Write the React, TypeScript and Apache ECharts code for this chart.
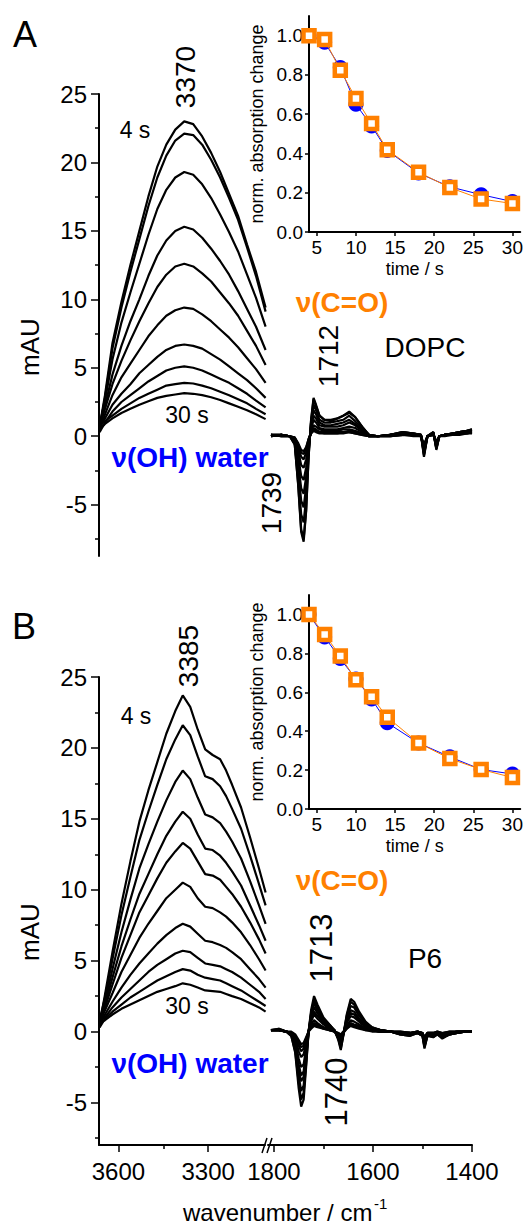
import React, { useEffect, useRef } from "react";
import * as echarts from "echarts";

// ---------- DATA ----------
const TIMES = [4, 6, 8, 10, 12, 14, 18, 22, 26, 30];

// Inset A (DOPC)
const OH_NORM_A = [1.0, 0.966, 0.838, 0.65, 0.54, 0.415, 0.3, 0.23, 0.19, 0.155];
const CO_NORM_A = [1.0, 0.98, 0.824, 0.68, 0.552, 0.419, 0.304, 0.226, 0.168, 0.145];
// Inset B (P6)
const OH_NORM_B = [1.0, 0.884, 0.773, 0.668, 0.566, 0.443, 0.339, 0.268, 0.203, 0.18];
const CO_NORM_B = [1.0, 0.897, 0.786, 0.664, 0.577, 0.472, 0.339, 0.259, 0.203, 0.162];

// nu(OH) region, panel A
const OH_W_A = [3663, 3645, 3620, 3590, 3560, 3530, 3500, 3470, 3440, 3410, 3380, 3350, 3320, 3290, 3260, 3230, 3200, 3170, 3140, 3108];
const OH_A_4s = [0.7, 3.0, 6.8, 9.8, 12.5, 15.0, 17.5, 19.7, 21.3, 22.4, 23.0, 22.8, 21.9, 20.7, 19.3, 17.7, 16.1, 14.0, 12.0, 9.4];
const OH_A_6s = [0.6, 2.8, 6.4, 9.4, 12.0, 14.4, 16.8, 18.9, 20.5, 21.6, 22.1, 22.0, 21.3, 20.2, 18.9, 17.4, 15.8, 13.8, 11.7, 9.1];
const OH_A_8s = [0.8, 2.6, 5.6, 8.3, 10.5, 12.6, 14.7, 16.6, 18.0, 18.9, 19.3, 19.1, 18.4, 17.4, 16.2, 14.9, 13.5, 11.8, 10.1, 8.0];
const OH_A_10s = [0.5, 2.2, 4.5, 6.6, 8.4, 10.0, 11.7, 13.2, 14.3, 15.0, 15.3, 15.1, 14.5, 13.7, 12.8, 11.8, 10.6, 9.3, 8.0, 6.3];
const OH_A_12s = [0.9, 2.0, 3.8, 5.5, 7.0, 8.4, 9.7, 10.9, 11.8, 12.4, 12.6, 12.4, 11.9, 11.3, 10.5, 9.7, 8.8, 7.7, 6.6, 5.2];
const OH_A_14s = [0.4, 1.6, 3.0, 4.3, 5.3, 6.3, 7.3, 8.1, 8.8, 9.2, 9.4, 9.3, 8.9, 8.4, 7.8, 7.2, 6.5, 5.7, 4.9, 3.9];
const OH_A_18s = [0.7, 1.3, 2.3, 3.1, 3.8, 4.6, 5.2, 5.8, 6.3, 6.6, 6.7, 6.6, 6.4, 6.0, 5.6, 5.1, 4.6, 4.1, 3.5, 2.8];
const OH_A_22s = [0.3, 1.0, 1.8, 2.5, 3.0, 3.5, 4.0, 4.4, 4.8, 5.0, 5.1, 5.0, 4.8, 4.5, 4.2, 3.9, 3.5, 3.1, 2.6, 2.1];
const OH_A_26s = [0.8, 1.1, 1.5, 2.0, 2.4, 2.8, 3.1, 3.4, 3.7, 3.8, 3.9, 3.85, 3.7, 3.5, 3.25, 3.0, 2.7, 2.4, 2.0, 1.6];
const OH_A_30s = [0.5, 0.9, 1.3, 1.7, 2.0, 2.3, 2.55, 2.8, 2.95, 3.05, 3.15, 3.1, 3.0, 2.85, 2.65, 2.4, 2.15, 1.9, 1.6, 1.25];
const OH_A = [OH_A_4s, OH_A_6s, OH_A_8s, OH_A_10s, OH_A_12s, OH_A_14s, OH_A_18s, OH_A_22s, OH_A_26s, OH_A_30s];

// nu(C=O) region, panel A
const CO_W_A = [1806, 1785, 1768, 1758, 1751, 1745, 1740, 1735, 1730, 1725, 1720, 1715, 1708, 1698, 1685, 1672, 1660, 1648, 1636, 1622, 1608, 1590, 1565, 1540, 1518, 1503, 1497, 1490, 1478, 1472, 1466, 1455, 1440, 1425, 1410, 1400];
const CO_A_4s = [0.1, 0.1, 0.0, -0.6, -3.6, -7.0, -7.7, -5.5, -1.5, 1.2, 2.8, 2.3, 1.5, 1.2, 1.2, 1.3, 1.5, 1.8, 1.4, 0.7, 0.1, 0.0, 0.1, 0.3, 0.2, 0.1, -1.5, 0.0, 0.3, -1.0, 0.0, 0.1, 0.2, 0.3, 0.4, 0.5];
const CO_A_6s = [0.1, 0.1, 0.0, -0.6, -3.5, -6.8, -7.5, -5.4, -1.5, 1.1, 2.7, 2.2, 1.5, 1.2, 1.1, 1.3, 1.5, 1.7, 1.4, 0.7, 0.1, 0.0, 0.1, 0.3, 0.2, 0.1, -1.4, 0.0, 0.3, -0.9, 0.0, 0.1, 0.2, 0.3, 0.4, 0.5];
const CO_A_8s = [0.1, 0.1, 0.0, -0.5, -3.0, -5.7, -6.3, -4.5, -1.2, 1.0, 2.3, 1.9, 1.2, 1.0, 1.0, 1.1, 1.2, 1.5, 1.1, 0.6, 0.1, 0.0, 0.1, 0.3, 0.2, 0.1, -1.3, 0.0, 0.3, -0.9, 0.0, 0.1, 0.2, 0.3, 0.4, 0.4];
const CO_A_10s = [0.0, 0.1, 0.0, -0.4, -2.4, -4.7, -5.2, -3.7, -1.0, 0.8, 1.9, 1.6, 1.0, 0.8, 0.8, 0.9, 1.0, 1.2, 0.9, 0.5, 0.1, 0.0, 0.1, 0.2, 0.2, 0.1, -1.2, 0.0, 0.2, -0.8, 0.0, 0.1, 0.2, 0.3, 0.4, 0.4];
const CO_A_12s = [0.1, 0.0, 0.0, -0.3, -2.0, -3.8, -4.2, -3.0, -0.8, 0.7, 1.5, 1.3, 0.8, 0.7, 0.7, 0.7, 0.8, 1.0, 0.8, 0.4, 0.0, 0.0, 0.1, 0.2, 0.1, 0.1, -1.1, 0.0, 0.2, -0.7, 0.0, 0.1, 0.2, 0.2, 0.3, 0.4];
const CO_A_14s = [0.0, 0.1, 0.0, -0.3, -1.5, -2.9, -3.2, -2.3, -0.6, 0.5, 1.2, 1.0, 0.6, 0.5, 0.5, 0.5, 0.6, 0.7, 0.6, 0.3, 0.0, 0.0, 0.1, 0.2, 0.1, 0.0, -1.0, 0.0, 0.2, -0.6, 0.0, 0.1, 0.1, 0.2, 0.3, 0.3];
const CO_A_18s = [0.1, 0.0, 0.0, -0.2, -1.1, -2.1, -2.3, -1.7, -0.5, 0.4, 0.8, 0.7, 0.5, 0.4, 0.4, 0.4, 0.5, 0.5, 0.4, 0.2, 0.0, 0.0, 0.1, 0.1, 0.1, 0.0, -0.9, 0.0, 0.2, -0.5, 0.0, 0.1, 0.1, 0.2, 0.3, 0.3];
const CO_A_22s = [0.0, 0.1, 0.0, -0.1, -0.8, -1.5, -1.7, -1.2, -0.3, 0.3, 0.6, 0.5, 0.3, 0.3, 0.3, 0.3, 0.3, 0.4, 0.3, 0.2, 0.0, 0.0, 0.0, 0.1, 0.1, 0.0, -0.8, 0.0, 0.1, -0.5, 0.0, 0.1, 0.1, 0.2, 0.2, 0.3];
const CO_A_26s = [0.1, 0.0, 0.0, -0.1, -0.6, -1.2, -1.3, -0.9, -0.2, 0.2, 0.5, 0.4, 0.3, 0.2, 0.2, 0.2, 0.3, 0.3, 0.2, 0.1, 0.0, 0.0, 0.0, 0.1, 0.1, 0.0, -0.7, 0.0, 0.1, -0.4, 0.0, 0.1, 0.1, 0.2, 0.2, 0.3];
const CO_A_30s = [0.0, 0.1, 0.0, -0.1, -0.5, -1.0, -1.1, -0.8, -0.2, 0.2, 0.4, 0.3, 0.2, 0.2, 0.2, 0.2, 0.2, 0.3, 0.2, 0.1, 0.0, 0.0, 0.0, 0.1, 0.0, 0.0, -0.6, 0.0, 0.1, -0.4, 0.0, 0.0, 0.1, 0.1, 0.2, 0.2];
const CO_A = [CO_A_4s, CO_A_6s, CO_A_8s, CO_A_10s, CO_A_12s, CO_A_14s, CO_A_18s, CO_A_22s, CO_A_26s, CO_A_30s];

// nu(OH) region, panel B
const OH_W_B = [3663, 3645, 3620, 3590, 3560, 3530, 3500, 3470, 3440, 3410, 3385, 3360, 3335, 3310, 3285, 3260, 3240, 3220, 3190, 3160, 3130, 3108];
const OH_B_4s = [0.5, 2.6, 5.6, 9.0, 12.0, 14.8, 17.0, 19.0, 21.0, 22.6, 23.7, 22.9, 21.3, 19.9, 19.5, 19.2, 18.4, 17.4, 15.8, 13.7, 11.5, 9.8];
const OH_B_6s = [0.8, 2.4, 5.1, 8.2, 10.9, 13.5, 15.5, 17.4, 19.2, 20.6, 21.6, 20.9, 19.4, 18.0, 17.8, 17.3, 16.6, 15.7, 14.3, 12.4, 10.4, 8.9];
const OH_B_8s = [0.4, 2.1, 4.4, 7.0, 9.3, 11.5, 13.2, 14.8, 16.3, 17.6, 18.4, 17.8, 16.5, 15.3, 15.1, 14.7, 14.1, 13.4, 12.2, 10.6, 8.9, 7.6];
const OH_B_10s = [0.9, 1.9, 3.8, 6.0, 7.9, 9.7, 11.1, 12.5, 13.8, 14.8, 15.5, 15.0, 13.9, 12.9, 12.8, 12.4, 11.9, 11.3, 10.3, 8.9, 7.5, 6.4];
const OH_B_12s = [0.3, 1.7, 3.3, 5.2, 6.8, 8.4, 9.6, 10.8, 11.9, 12.7, 13.3, 12.9, 12.0, 11.1, 11.0, 10.7, 10.2, 9.7, 8.8, 7.7, 6.5, 5.5];
const OH_B_14s = [0.7, 1.5, 2.7, 4.2, 5.4, 6.6, 7.6, 8.5, 9.4, 10.0, 10.5, 10.2, 9.4, 8.8, 8.7, 8.4, 8.1, 7.7, 7.0, 6.1, 5.1, 4.3];
const OH_B_18s = [0.4, 1.2, 2.1, 3.1, 4.0, 4.8, 5.5, 6.2, 6.8, 7.3, 7.6, 7.4, 6.9, 6.4, 6.3, 6.1, 5.9, 5.6, 5.1, 4.4, 3.7, 3.1];
const OH_B_22s = [0.8, 1.0, 1.7, 2.4, 3.0, 3.6, 4.2, 4.7, 5.1, 5.5, 5.7, 5.6, 5.2, 4.8, 4.7, 4.6, 4.4, 4.2, 3.8, 3.3, 2.8, 2.3];
const OH_B_26s = [0.3, 0.9, 1.4, 1.9, 2.4, 2.8, 3.2, 3.6, 3.9, 4.2, 4.4, 4.3, 4.0, 3.8, 3.7, 3.6, 3.4, 3.2, 2.9, 2.5, 2.1, 1.8];
const OH_B_30s = [0.6, 0.8, 1.2, 1.6, 1.9, 2.2, 2.5, 2.8, 3.0, 3.2, 3.4, 3.3, 3.1, 2.9, 2.85, 2.8, 2.65, 2.5, 2.3, 2.0, 1.7, 1.4];
const OH_B = [OH_B_4s, OH_B_6s, OH_B_8s, OH_B_10s, OH_B_12s, OH_B_14s, OH_B_18s, OH_B_22s, OH_B_26s, OH_B_30s];

// nu(C=O) region, panel B
const CO_W_B = [1806, 1790, 1775, 1765, 1757, 1750, 1745, 1740, 1735, 1730, 1725, 1719, 1712, 1700, 1688, 1678, 1670, 1665, 1660, 1653, 1645, 1638, 1628, 1615, 1602, 1585, 1565, 1545, 1525, 1510, 1500, 1496, 1490, 1478, 1470, 1460, 1445, 1430, 1415, 1400];
const CO_B_4s = [0.1, 0.2, 0.0, -0.3, -1.5, -4.0, -5.3, -4.8, -2.5, 0.0, 1.5, 2.5, 1.9, 1.0, 0.5, 0.1, -0.6, -1.3, -0.3, 1.2, 2.3, 2.1, 1.4, 0.7, 0.3, 0.1, 0.0, -0.2, -0.3, -0.1, -0.3, -1.2, -0.3, -0.4, -0.2, -0.5, -0.2, -0.1, 0.0, 0.0];
const CO_B_6s = [0.1, 0.2, 0.0, -0.3, -1.4, -3.6, -4.8, -4.3, -2.3, 0.0, 1.3, 2.2, 1.7, 0.9, 0.5, 0.1, -0.5, -1.2, -0.3, 1.1, 2.1, 1.9, 1.3, 0.6, 0.3, 0.1, 0.0, -0.2, -0.3, -0.1, -0.3, -1.1, -0.3, -0.4, -0.2, -0.4, -0.2, -0.1, 0.0, 0.0];
const CO_B_8s = [0.1, 0.1, 0.0, -0.2, -1.2, -3.1, -4.2, -3.8, -2.0, 0.0, 1.2, 2.0, 1.5, 0.8, 0.4, 0.1, -0.5, -1.0, -0.2, 0.9, 1.8, 1.7, 1.1, 0.6, 0.2, 0.1, 0.0, -0.2, -0.2, -0.1, -0.3, -1.0, -0.3, -0.3, -0.2, -0.4, -0.2, -0.1, 0.0, 0.0];
const CO_B_10s = [0.1, 0.1, 0.0, -0.2, -1.0, -2.7, -3.5, -3.2, -1.7, 0.0, 1.0, 1.7, 1.3, 0.7, 0.3, 0.1, -0.4, -0.9, -0.2, 0.8, 1.5, 1.4, 0.9, 0.5, 0.2, 0.1, 0.0, -0.1, -0.2, -0.1, -0.2, -0.9, -0.2, -0.3, -0.2, -0.3, -0.2, -0.1, 0.0, 0.0];
const CO_B_12s = [0.1, 0.1, 0.0, -0.2, -0.9, -2.3, -3.1, -2.8, -1.4, 0.0, 0.9, 1.4, 1.1, 0.6, 0.3, 0.1, -0.3, -0.8, -0.2, 0.7, 1.3, 1.2, 0.8, 0.4, 0.2, 0.1, 0.0, -0.1, -0.2, -0.1, -0.2, -0.8, -0.2, -0.3, -0.1, -0.3, -0.1, -0.1, 0.0, 0.0];
const CO_B_14s = [0.1, 0.1, 0.0, -0.1, -0.7, -1.9, -2.5, -2.3, -1.2, 0.0, 0.7, 1.2, 0.9, 0.5, 0.2, 0.0, -0.3, -0.6, -0.1, 0.6, 1.1, 1.0, 0.7, 0.3, 0.1, 0.0, 0.0, -0.1, -0.1, -0.1, -0.2, -0.7, -0.2, -0.2, -0.1, -0.3, -0.1, 0.0, 0.0, 0.0];
const CO_B_18s = [0.1, 0.1, 0.0, -0.1, -0.5, -1.4, -1.8, -1.6, -0.8, 0.0, 0.5, 0.8, 0.6, 0.3, 0.2, 0.0, -0.2, -0.4, -0.1, 0.4, 0.8, 0.7, 0.5, 0.2, 0.1, 0.0, 0.0, -0.1, -0.1, 0.0, -0.1, -0.6, -0.1, -0.2, -0.1, -0.2, -0.1, 0.0, 0.0, 0.0];
const CO_B_22s = [0.1, 0.1, 0.0, -0.1, -0.4, -1.0, -1.4, -1.2, -0.6, 0.0, 0.4, 0.6, 0.5, 0.3, 0.1, 0.0, -0.2, -0.3, -0.1, 0.3, 0.6, 0.5, 0.4, 0.2, 0.1, 0.0, 0.0, -0.1, -0.1, 0.0, -0.1, -0.5, -0.1, -0.1, -0.1, -0.2, -0.1, 0.0, 0.0, 0.0];
const CO_B_26s = [0.1, 0.1, 0.0, -0.1, -0.3, -0.8, -1.1, -1.0, -0.5, 0.0, 0.3, 0.5, 0.4, 0.2, 0.1, 0.0, -0.1, -0.3, -0.1, 0.2, 0.5, 0.4, 0.3, 0.1, 0.1, 0.0, 0.0, 0.0, -0.1, 0.0, -0.1, -0.4, -0.1, -0.1, 0.0, -0.1, 0.0, 0.0, 0.0, 0.0];
const CO_B_30s = [0.1, 0.1, 0.0, 0.0, -0.2, -0.6, -0.9, -0.8, -0.4, 0.0, 0.2, 0.4, 0.3, 0.2, 0.1, 0.0, -0.1, -0.2, 0.0, 0.2, 0.4, 0.3, 0.2, 0.1, 0.0, 0.0, 0.0, 0.0, -0.1, 0.0, -0.1, -0.4, -0.1, -0.1, 0.0, -0.1, 0.0, 0.0, 0.0, 0.0];
const CO_B = [CO_B_4s, CO_B_6s, CO_B_8s, CO_B_10s, CO_B_12s, CO_B_14s, CO_B_18s, CO_B_22s, CO_B_26s, CO_B_30s];

// tick values
const Y_MAJOR = [-5, 0, 5, 10, 15, 20, 25];
const Y_MINOR = [-7.5, -2.5, 2.5, 7.5, 12.5, 17.5, 22.5];
const X_OH_MAJOR = [3600, 3300];
const X_OH_MINOR = [3450];
const X_CO_MAJOR = [1800, 1600, 1400];
const X_CO_MINOR = [1700, 1500];
const T_TICKS = [5, 10, 15, 20, 25, 30];
const N_TICKS = [0, 0.2, 0.4, 0.6, 0.8, 1.0];

// ---------- STYLE ----------
const FONT = '"Liberation Sans", Arial, sans-serif';
const BLUE = "#0000ff";
const ORANGE = "#ff8000";

function pairs(xs: number[], ys: number[]) {
  return xs.map((x, i) => [x, ys[i]]);
}

function buildOption() {
  const grid = [
    { left: 99, top: 94, width: 166, height: 462 },
    { left: 268, top: 94, width: 204, height: 462 },
    { left: 309, top: 16, width: 213, height: 216 },
    { left: 99, top: 677, width: 166, height: 468 },
    { left: 268, top: 677, width: 204, height: 468 },
    { left: 309, top: 595, width: 213, height: 214 },
  ];

  const axisLine = { show: true, onZero: false, lineStyle: { color: "#000", width: 2 } };
  const tickStyle = { color: "#000", width: 1.5 };
  const hiddenX = (g: number, min: number, max: number) => ({
    type: "value", gridIndex: g, min, max, inverse: true, show: false,
  });

  const mainXLabeled = (g: number, min: number, max: number, major: number[]) => ({
    type: "value", gridIndex: g, min, max, inverse: true, position: "bottom",
    axisLine, splitLine: { show: false },
    axisTick: { show: true, inside: false, length: 7, customValues: major, lineStyle: tickStyle },
    axisLabel: {
      show: true, customValues: major, margin: 14, color: "#000", fontSize: 24, fontFamily: FONT,
      formatter: (v: number) => String(v),
    },
  });
  const mainXMinor = (g: number, min: number, max: number, minor: number[]) => ({
    type: "value", gridIndex: g, min, max, inverse: true, position: "bottom",
    axisLine: { show: false, onZero: false }, splitLine: { show: false },
    axisTick: { show: true, length: 4, customValues: minor, lineStyle: tickStyle },
    axisLabel: { show: false },
  });
  const insetX = (g: number) => ({
    type: "value", gridIndex: g, min: 4, max: 31, position: "bottom",
    axisLine, splitLine: { show: false },
    axisTick: { show: true, length: 4, customValues: T_TICKS, lineStyle: tickStyle },
    axisLabel: { show: true, customValues: T_TICKS, margin: 6, color: "#000", fontSize: 19, fontFamily: FONT },
    name: "time / s", nameLocation: "middle", nameGap: 28,
    nameTextStyle: { color: "#000", fontSize: 18, fontFamily: FONT },
  });

  const mainY = (g: number, min: number) => ({
    type: "value", gridIndex: g, min, max: 25, position: "left",
    axisLine, splitLine: { show: false },
    axisTick: { show: true, length: 8, customValues: Y_MAJOR, lineStyle: tickStyle },
    axisLabel: { show: true, customValues: Y_MAJOR, margin: 12, color: "#000", fontSize: 24, fontFamily: FONT },
  });
  const minorY = (g: number, min: number) => ({
    type: "value", gridIndex: g, min, max: 25, position: "left", offset: 0,
    axisLine: { show: false, onZero: false }, splitLine: { show: false },
    axisTick: { show: true, length: 4, customValues: Y_MINOR, lineStyle: tickStyle },
    axisLabel: { show: false },
  });
  const hiddenY = (g: number, min: number) => ({ type: "value", gridIndex: g, min, max: 25, show: false });
  const insetY = (g: number) => ({
    type: "value", gridIndex: g, min: 0, max: 1.1, position: "left",
    axisLine, splitLine: { show: false },
    axisTick: { show: true, length: 4, customValues: N_TICKS, lineStyle: tickStyle },
    axisLabel: {
      show: true, customValues: N_TICKS, margin: 6, color: "#000", fontSize: 19, fontFamily: FONT,
      formatter: (v: number) => v.toFixed(1),
    },
    name: "norm. absorption change", nameLocation: "middle", nameGap: 43, nameRotate: 90,
    nameTextStyle: { color: "#000", fontSize: 18, fontFamily: FONT },
  });

  const xAxis = [
    hiddenX(0, 3110, 3665), // 0
    hiddenX(1, 1400, 1812), // 1
    insetX(2), // 2
    mainXLabeled(3, 3110, 3665, X_OH_MAJOR), // 3
    mainXMinor(3, 3110, 3665, X_OH_MINOR), // 4
    mainXLabeled(4, 1400, 1812, X_CO_MAJOR), // 5
    mainXMinor(4, 1400, 1812, X_CO_MINOR), // 6
    insetX(5), // 7
  ];
  const yAxis = [
    mainY(0, -8.75), // 0
    minorY(0, -8.75), // 1
    hiddenY(1, -8.75), // 2
    insetY(2), // 3
    mainY(3, -8), // 4
    minorY(3, -8), // 5
    hiddenY(4, -8), // 6
    insetY(5), // 7
  ];

  const specLine = (data: number[][], xi: number, yi: number) => ({
    type: "line", xAxisIndex: xi, yAxisIndex: yi, data, showSymbol: false, symbol: "none",
    lineStyle: { color: "#000", width: 2.2 }, silent: true, z: 2,
  });

  const series: any[] = [];
  OH_A.forEach((c) => series.push(specLine(pairs(OH_W_A, c), 0, 0)));
  CO_A.forEach((c) => series.push(specLine(pairs(CO_W_A, c), 1, 2)));
  OH_B.forEach((c) => series.push(specLine(pairs(OH_W_B, c), 3, 4)));
  CO_B.forEach((c) => series.push(specLine(pairs(CO_W_B, c), 5, 6)));

  const blueSeries = (vals: number[], xi: number, yi: number) => ({
    type: "line", xAxisIndex: xi, yAxisIndex: yi, data: pairs(TIMES, vals),
    symbol: "circle", symbolSize: 15, itemStyle: { color: BLUE },
    lineStyle: { color: BLUE, width: 1 }, z: 3,
  });
  const orangeSeries = (vals: number[], xi: number, yi: number) => ({
    type: "line", xAxisIndex: xi, yAxisIndex: yi, data: pairs(TIMES, vals),
    symbol: "rect", symbolSize: 11,
    itemStyle: { color: "#fff", borderColor: ORANGE, borderWidth: 4.5 },
    lineStyle: { color: ORANGE, width: 1 }, z: 4,
  });
  series.push(blueSeries(OH_NORM_A, 2, 3));
  series.push(orangeSeries(CO_NORM_A, 2, 3));
  series.push(blueSeries(OH_NORM_B, 7, 7));
  series.push(orangeSeries(CO_NORM_B, 7, 7));

  const R = Math.PI / 2;
  const txt = (text: string, x: number, y: number, size: number, opts: any = {}) => ({
    type: "text", x, y, rotation: opts.rot ? R : 0, z: 10,
    style: {
      text, fill: opts.color || "#000",
      font: `${opts.bold ? "bold " : ""}${size}px ${FONT}`,
      align: opts.align || "center", verticalAlign: "middle",
    },
  });

  const graphic = [
    txt("A", 25, 34, 36),
    txt("B", 24, 626, 36),
    txt("3370", 185, 77, 28, { rot: true }),
    txt("3385", 188, 656, 28, { rot: true }),
    txt("4 s", 135, 130, 23),
    txt("4 s", 136, 716, 23),
    txt("30 s", 187, 415, 23),
    txt("30 s", 187, 1006, 23),
    txt("ν(OH) water", 190, 457, 28, { bold: true, color: BLUE }),
    txt("ν(OH) water", 190, 1063, 28, { bold: true, color: BLUE }),
    txt("ν(C=O)", 342, 302, 28, { bold: true, color: ORANGE }),
    txt("ν(C=O)", 342, 880, 28, { bold: true, color: ORANGE }),
    txt("1712", 328, 356, 28, { rot: true }),
    txt("1739", 271, 503, 28, { rot: true }),
    txt("1713", 321, 948, 31, { rot: true }),
    txt("1740", 336, 1092, 31, { rot: true }),
    txt("DOPC", 425, 347, 28),
    txt("P6", 425, 958, 28),
    txt("mAU", 30, 347, 26, { rot: true }),
    txt("mAU", 30, 932, 26, { rot: true }),
    txt("wavenumber / cm", 183, 1212, 24, { align: "left" }),
    txt("-1", 374, 1203, 15, { align: "left" }),
    { type: "line", z: 10, shape: { x1: 262, y1: 1153, x2: 267, y2: 1138 }, style: { stroke: "#000", lineWidth: 1.5 } },
    { type: "line", z: 10, shape: { x1: 267, y1: 1153, x2: 272, y2: 1138 }, style: { stroke: "#000", lineWidth: 1.5 } },
  ];

  return { animation: false, backgroundColor: "#fff", grid, xAxis, yAxis, series, graphic };
}

export default function App() {
  const ref = useRef<HTMLDivElement>(null);
  useEffect(() => {
    if (!ref.current) return;
    const chart = echarts.init(ref.current, null, { renderer: "svg" });
    chart.setOption(buildOption() as any);
    return () => chart.dispose();
  }, []);
  return (
    <div
      ref={ref}
      style={{ position: "fixed", left: 0, top: 0, width: 526, height: 1227, background: "#fff" }}
    />
  );
}
